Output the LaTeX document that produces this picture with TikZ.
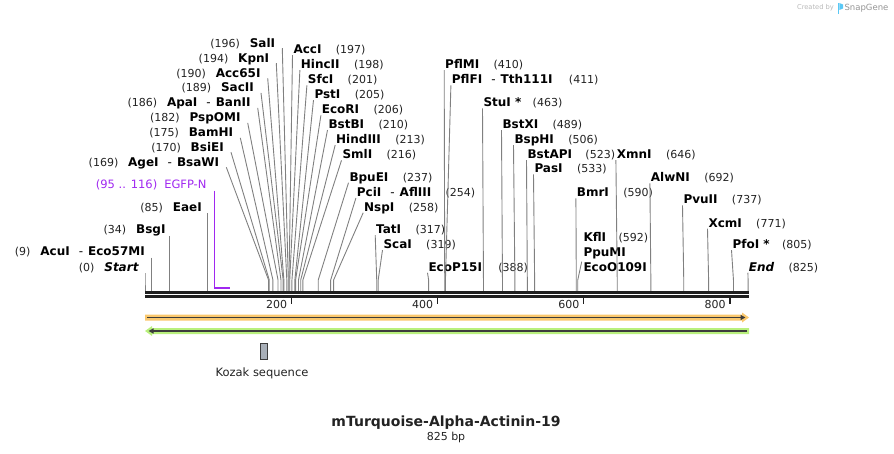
\documentclass[tikz,border=0pt]{standalone}
\usepackage{fontspec}
\setmainfont{DejaVu Sans}
\usetikzlibrary{arrows.meta,calc,positioning}

\definecolor{sitegray}{RGB}{128,128,128}
\definecolor{numgray}{RGB}{34,34,34}
\definecolor{egfppurple}{RGB}{160,40,240}
\definecolor{orangefill}{RGB}{250,200,110}
\definecolor{greenfill}{RGB}{185,240,125}
\definecolor{darkline}{RGB}{60,60,60}
\definecolor{kozakfill}{RGB}{168,175,184}
\definecolor{logogray}{RGB}{185,185,185}
\definecolor{logoblue}{RGB}{90,200,245}

\newcommand{\orsep}{\hspace{9pt}{\mdseries -}\hspace{5pt}}

\tikzset{
  lname/.style={anchor=east, inner sep=0pt, text height=8.7pt, text depth=0pt,
    font=\fontsize{12}{14}\selectfont\bfseries},
  rname/.style={lname, anchor=west},
  bpnum/.style={inner sep=0pt, text height=8.7pt, text depth=0pt,
    font=\fontsize{11}{13}\selectfont, text=numgray},
  site/.style={draw=sitegray, line width=0.9pt},
  backbone/.style={draw=black!88, line width=2.6pt},
  tick/.style={draw=black!88, line width=1.4pt},
}

\begin{document}
\begin{tikzpicture}[x=1pt,y=-1pt]
\useasboundingbox (0,0) rectangle (894,454);

\coordinate (start) at (145,280);

%backbone
\coordinate (bbL) at (145,292.3);
\coordinate (bbR) at (749,292.3);
\draw[backbone] (bbL) -- (bbR);
\draw[backbone] ($(bbL)+(0,4.2)$) -- ($(bbR)+(0,4.2)$);

\coordinate (t200) at ($(start)+(0.731*200,18)$);
\draw[tick] (t200) -- ++(0,6);
\node[bpnum, anchor=east] (l200) at ($(t200)+(-4,6)$) {200};
\coordinate (t400) at ($(start)+(0.731*400,18)$);
\draw[tick] (t400) -- ++(0,6);
\node[bpnum, anchor=east] (l400) at ($(t400)+(-4,6)$) {400};
\coordinate (t600) at ($(start)+(0.731*600,18)$);
\draw[tick] (t600) -- ++(0,6);
\node[bpnum, anchor=east] (l600) at ($(t600)+(-4,6)$) {600};
\coordinate (t800) at ($(start)+(0.731*800,18)$);
\draw[tick] (t800) -- ++(0,6);
\node[bpnum, anchor=east] (l800) at ($(t800)+(-4,6)$) {800};

%features
\coordinate (orgL) at (147,317.5);
\coordinate (orgR) at (745.5,317.5);
\fill[orangefill] (145,314.5) -- (742,314.5) -- (742,312.5) -- (749,317.5) -- (742,322.5) -- (742,320.5) -- (145,320.5) -- cycle;
\draw[darkline, line width=1.8pt, -{Triangle[length=5pt,width=5pt]}] (orgL) -- (orgR);

\coordinate (grnR) at (747,331);
\coordinate (grnL) at (148.5,331);
\fill[greenfill] (749,328) -- (152,328) -- (152,326) -- (145,331) -- (152,336) -- (152,334) -- (749,334) -- cycle;
\draw[darkline, line width=1.8pt, -{Triangle[length=5pt,width=5pt]}] (grnR) -- (grnL);

\node[draw=darkline, fill=kozakfill, line width=0.8pt, inner sep=0pt,
  minimum width=7pt, minimum height=16pt] (kozak) at (264,351) {};
\node[font=\fontsize{11.5}{13}\selectfont, text=numgray] (kozakL) at (262,373) {Kozak sequence};

%EGFP-N
\node[inner sep=0pt, anchor=east, text height=8.7pt, text depth=0pt,
  font=\fontsize{11.5}{13}\selectfont, text=egfppurple] (egfp) at (206.7,184) {(95 .. 116)\hspace{7pt}EGFP-N};
\coordinate (f95) at ($(start)+(0.731*95,7.7)$);
\coordinate (f116) at ($(start)+(0.731*116,7.7)$);
\draw[egfppurple, line width=1.1pt] ($(f95 |- egfp.south)+(0,2)$) -- (f95);
\draw[egfppurple, line width=2pt] (f95) -- (f116);

%left labels
\node[lname] (salI) at (275.3,42.7) {SalI};
\node[bpnum, left=9.5pt of salI] (salIn) {(196)};
\coordinate (s196) at ($(start)+(0.731*196,0)$);
\draw[site] ($(salI.south east)+(7,1)$) -- (s196) -- ++(0,11);

\node[lname] (kpnI) at (269.3,57.7) {KpnI};
\node[bpnum, left=9.5pt of kpnI] (kpnIn) {(194)};
\coordinate (s194) at ($(start)+(0.731*194,0)$);
\draw[site] ($(kpnI.south east)+(7,1)$) -- (s194) -- ++(0,11);

\node[lname] (acc65I) at (260.7,72.7) {Acc65I};
\node[bpnum, left=9.5pt of acc65I] (acc65In) {(190)};
\coordinate (s190) at ($(start)+(0.731*190,0)$);
\draw[site] ($(acc65I.south east)+(7,1)$) -- (s190) -- ++(0,11);

\node[lname] (sacII) at (254,87.3) {SacII};
\node[bpnum, left=9.5pt of sacII] (sacIIn) {(189)};
\coordinate (s189) at ($(start)+(0.731*189,0)$);
\draw[site] ($(sacII.south east)+(7,1)$) -- (s189) -- ++(0,11);

\node[lname] (apaI) at (250.7,102.3) {ApaI\orsep BanII};
\node[bpnum, left=9.5pt of apaI] (apaIn) {(186)};
\coordinate (s186) at ($(start)+(0.731*186,0)$);
\draw[site] ($(apaI.south east)+(7,1)$) -- (s186) -- ++(0,11);

\node[lname] (pspOMI) at (240.7,117.3) {PspOMI};
\node[bpnum, left=9.5pt of pspOMI] (pspOMIn) {(182)};
\coordinate (s182) at ($(start)+(0.731*182,0)$);
\draw[site] ($(pspOMI.south east)+(7,1)$) -- (s182) -- ++(0,11);

\node[lname] (bamHI) at (233.3,132.3) {BamHI};
\node[bpnum, left=9.5pt of bamHI] (bamHIn) {(175)};
\coordinate (s175) at ($(start)+(0.731*175,0)$);
\draw[site] ($(bamHI.south east)+(7,1)$) -- (s175) -- ++(0,11);

\node[lname] (bsiEI) at (224,146.7) {BsiEI};
\node[bpnum, left=9.5pt of bsiEI] (bsiEIn) {(170)};
\coordinate (s170) at ($(start)+(0.731*170,0)$);
\draw[site] ($(bsiEI.south east)+(7,1)$) -- (s170) -- ++(0,11);

\node[lname] (ageI) at (219.3,161.7) {AgeI\orsep BsaWI};
\node[bpnum, left=9.5pt of ageI] (ageIn) {(169)};
\coordinate (s169) at ($(start)+(0.731*169,0)$);
\draw[site] ($(ageI.south east)+(7,1)$) -- (s169) -- ++(0,11);

\node[lname] (eaeI) at (202,206.7) {EaeI};
\node[bpnum, left=9.5pt of eaeI] (eaeIn) {(85)};
\coordinate (s85) at ($(start)+(0.731*85,0)$);
\draw[site] ($(s85 |- eaeI.south)+(0,2)$) -- (s85) -- ++(0,11);

\node[lname] (bsgI) at (165.7,229.3) {BsgI};
\node[bpnum, left=9.5pt of bsgI] (bsgIn) {(34)};
\coordinate (s34) at ($(start)+(0.731*34,0)$);
\draw[site] ($(s34 |- bsgI.south)+(0,2)$) -- (s34) -- ++(0,11);

\node[lname] (acuI) at (145,251) {AcuI\orsep Eco57MI};
\node[bpnum, left=9.5pt of acuI] (acuIn) {(9)};
\coordinate (s9) at ($(start)+(0.731*9,0)$);
\draw[site] ($(s9 |- acuI.south)+(0,2)$) -- (s9) -- ++(0,11);

\node[lname, font=\fontsize{12}{14}\selectfont\bfseries\itshape] (startL) at (138.7,266.7) {Start};
\node[bpnum, left=9.5pt of startL] (startLn) {(0)};
\coordinate (s0) at ($(start)+(0.731*0,0)$);
\draw[site] ($(s0 |- startL.south)+(0,2)$) -- (s0) -- ++(0,11);

%right labels
\node[rname] (accI) at (293.3,49) {AccI};
\node[bpnum, right=14pt of accI] (accIn) {(197)};
\coordinate (s197) at ($(start)+(0.731*197,0)$);
\draw[site] ($(accI.south west)+(-0.8,1.5)$) -- (s197) -- ++(0,11);

\node[rname] (hincII) at (300.7,64) {HincII};
\node[bpnum, right=14pt of hincII] (hincIIn) {(198)};
\coordinate (s198) at ($(start)+(0.731*198,0)$);
\draw[site] ($(hincII.south west)+(-0.8,1.5)$) -- (s198) -- ++(0,11);

\node[rname] (sfcI) at (307.7,79.3) {SfcI};
\node[bpnum, right=14pt of sfcI] (sfcIn) {(201)};
\coordinate (s201) at ($(start)+(0.731*201,0)$);
\draw[site] ($(sfcI.south west)+(-0.8,1.5)$) -- (s201) -- ++(0,11);

\node[rname] (pstI) at (314.3,94) {PstI};
\node[bpnum, right=14pt of pstI] (pstIn) {(205)};
\coordinate (s205) at ($(start)+(0.731*205,0)$);
\draw[site] ($(pstI.south west)+(-0.8,1.5)$) -- (s205) -- ++(0,11);

\node[rname] (ecoRI) at (321.7,109.3) {EcoRI};
\node[bpnum, right=14pt of ecoRI] (ecoRIn) {(206)};
\coordinate (s206) at ($(start)+(0.731*206,0)$);
\draw[site] ($(ecoRI.south west)+(-0.8,1.5)$) -- (s206) -- ++(0,11);

\node[rname] (bstBI) at (328.3,124) {BstBI};
\node[bpnum, right=14pt of bstBI] (bstBIn) {(210)};
\coordinate (s210) at ($(start)+(0.731*210,0)$);
\draw[site] ($(bstBI.south west)+(-0.8,1.5)$) -- (s210) -- ++(0,11);

\node[rname] (hindIII) at (336,139) {HindIII};
\node[bpnum, right=14pt of hindIII] (hindIIIn) {(213)};
\coordinate (s213) at ($(start)+(0.731*213,0)$);
\draw[site] ($(hindIII.south west)+(-0.8,1.5)$) -- (s213) -- ++(0,11);

\node[rname] (smlI) at (342.3,154.3) {SmlI};
\node[bpnum, right=14pt of smlI] (smlIn) {(216)};
\coordinate (s216) at ($(start)+(0.731*216,0)$);
\draw[site] ($(smlI.south west)+(-0.8,1.5)$) -- (s216) -- ++(0,11);

\node[rname] (bpuEI) at (349.3,176.7) {BpuEI};
\node[bpnum, right=14pt of bpuEI] (bpuEIn) {(237)};
\coordinate (s237) at ($(start)+(0.731*237,0)$);
\draw[site] ($(bpuEI.south west)+(-0.8,1.5)$) -- (s237) -- ++(0,11);

\node[rname] (pciI) at (356.7,192) {PciI\orsep AflIII};
\node[bpnum, right=14pt of pciI] (pciIn) {(254)};
\coordinate (s254) at ($(start)+(0.731*254,0)$);
\draw[site] ($(pciI.south west)+(-0.8,1.5)$) -- (s254) -- ++(0,11);

\node[rname] (nspI) at (364,206.7) {NspI};
\node[bpnum, right=14pt of nspI] (nspIn) {(258)};
\coordinate (s258) at ($(start)+(0.731*258,0)$);
\draw[site] ($(nspI.south west)+(-0.8,1.5)$) -- (s258) -- ++(0,11);

\node[rname] (tatI) at (376,229) {TatI};
\node[bpnum, right=14pt of tatI] (tatIn) {(317)};
\coordinate (s317) at ($(start)+(0.731*317,0)$);
\draw[site] ($(tatI.south west)+(-0.8,1.5)$) -- (s317) -- ++(0,11);

\node[rname] (scaI) at (383.3,244) {ScaI};
\node[bpnum, right=14pt of scaI] (scaIn) {(319)};
\coordinate (s319) at ($(start)+(0.731*319,0)$);
\draw[site] ($(scaI.south west)+(-0.8,1.5)$) -- (s319) -- ++(0,11);

\node[rname] (ecoP15I) at (428.3,266.7) {EcoP15I};
\node[bpnum, right=16pt of ecoP15I] (ecoP15In) {(388)};
\coordinate (s388) at ($(start)+(0.731*388,0)$);
\draw[site] ($(ecoP15I.south west)+(-0.8,1.5)$) -- (s388) -- ++(0,11);

\node[rname] (pflMI) at (445,64) {PflMI};
\node[bpnum, right=14pt of pflMI] (pflMIn) {(410)};
\coordinate (s410) at ($(start)+(0.731*410,0)$);
\draw[site] ($(pflMI.south west)+(-0.8,1.5)$) -- (s410) -- ++(0,11);

\node[rname] (pflFI) at (451.7,79.3) {PflFI\orsep Tth111I};
\node[bpnum, right=16pt of pflFI] (pflFIn) {(411)};
\coordinate (s411) at ($(start)+(0.731*411,0)$);
\draw[site] ($(pflFI.south west)+(-0.8,1.5)$) -- (s411) -- ++(0,11);

\node[rname] (stuI) at (483.3,102.3) {StuI *};
\node[bpnum, right=11pt of stuI] (stuIn) {(463)};
\coordinate (s463) at ($(start)+(0.731*463,0)$);
\draw[site] ($(stuI.south west)+(-0.8,1.5)$) -- (s463) -- ++(0,11);

\node[rname] (bstXI) at (502.3,124) {BstXI};
\node[bpnum, right=14pt of bstXI] (bstXIn) {(489)};
\coordinate (s489) at ($(start)+(0.731*489,0)$);
\draw[site] ($(bstXI.south west)+(-0.8,1.5)$) -- (s489) -- ++(0,11);

\node[rname] (bspHI) at (514.3,139) {BspHI};
\node[bpnum, right=14pt of bspHI] (bspHIn) {(506)};
\coordinate (s506) at ($(start)+(0.731*506,0)$);
\draw[site] ($(bspHI.south west)+(-0.8,1.5)$) -- (s506) -- ++(0,11);

\node[rname] (bstAPI) at (527.3,154) {BstAPI};
\node[bpnum, right=13pt of bstAPI] (bstAPIn) {(523)};
\coordinate (s523) at ($(start)+(0.731*523,0)$);
\draw[site] ($(bstAPI.south west)+(-0.8,1.5)$) -- (s523) -- ++(0,11);

\node[rname] (pasI) at (534.3,168.3) {PasI};
\node[bpnum, right=14pt of pasI] (pasIn) {(533)};
\coordinate (s533) at ($(start)+(0.731*533,0)$);
\draw[site] ($(pasI.south west)+(-0.8,1.5)$) -- (s533) -- ++(0,11);

\node[rname] (bmrI) at (576.7,192.3) {BmrI};
\node[bpnum, right=14pt of bmrI] (bmrIn) {(590)};
\coordinate (s590) at ($(start)+(0.731*590,0)$);
\draw[site] ($(bmrI.south west)+(-0.8,1.5)$) -- (s590) -- ++(0,11);

\node[rname] (kflI) at (583.3,237.3) {KflI};
\node[bpnum, right=12pt of kflI] (kflIn) {(592)};
\node[rname] (ppuMI) at (583.3,252.3) {PpuMI};
\node[rname] (ecoO109I) at (583.3,266.7) {EcoO109I};
\coordinate (s592) at ($(start)+(0.731*592,0)$);
\draw[site] ($(ecoO109I.west)+(-1.6,-5)$) -- (s592) -- ++(0,11);

\node[rname] (xmnI) at (616.7,154) {XmnI};
\node[bpnum, right=14pt of xmnI] (xmnIn) {(646)};
\coordinate (s646) at ($(start)+(0.731*646,0)$);
\draw[site] ($(xmnI.south west)+(-0.8,1.5)$) -- (s646) -- ++(0,11);

\node[rname] (alwNI) at (650.7,177.3) {AlwNI};
\node[bpnum, right=14pt of alwNI] (alwNIn) {(692)};
\coordinate (s692) at ($(start)+(0.731*692,0)$);
\draw[site] ($(alwNI.south west)+(-0.8,1.5)$) -- (s692) -- ++(0,11);

\node[rname] (pvuII) at (683.3,199.3) {PvuII};
\node[bpnum, right=14pt of pvuII] (pvuIIn) {(737)};
\coordinate (s737) at ($(start)+(0.731*737,0)$);
\draw[site] ($(pvuII.south west)+(-0.8,1.5)$) -- (s737) -- ++(0,11);

\node[rname] (xcmI) at (708.3,222.7) {XcmI};
\node[bpnum, right=14pt of xcmI] (xcmIn) {(771)};
\coordinate (s771) at ($(start)+(0.731*771,0)$);
\draw[site] ($(xcmI.south west)+(-0.8,1.5)$) -- (s771) -- ++(0,11);

\node[rname] (pfoI) at (732.3,244) {PfoI *};
\node[bpnum, right=12pt of pfoI] (pfoIn) {(805)};
\coordinate (s805) at ($(start)+(0.731*805,0)$);
\draw[site] ($(pfoI.south west)+(-0.8,1.5)$) -- (s805) -- ++(0,11);

\node[rname, font=\fontsize{12}{14}\selectfont\bfseries\itshape] (endL) at (748.7,266.7) {End};
\node[bpnum, right=14pt of endL] (endLn) {(825)};
\coordinate (s825) at ($(start)+(0.731*825,0)$);
\draw[site] ($(endL.south west)+(-0.8,1.5)$) -- (s825) -- ++(0,11);

%title
\node[font=\fontsize{14}{16}\selectfont\bfseries, text=numgray] (title) at (446,423) {mTurquoise-Alpha-Actinin-19};
\node[font=\fontsize{11}{13}\selectfont, text=numgray] (size) at (446,437.5) {825 bp};

%logo
\node[font=\fontsize{6.7}{8}\selectfont, text=logogray, inner sep=0pt] (created) at (815.5,8) {Created by};
\fill[logoblue] (837.5,3) rectangle (839.3,14);
\fill[logoblue] (839.3,3) -- (843,4.5) -- (843,8.5) -- (839.3,10) -- cycle;
\node[font=\fontsize{8.5}{10}\selectfont, text=logogray!80!black, inner sep=0pt] (snapgene) at (866.5,8) {SnapGene};
\end{tikzpicture}
\end{document}
